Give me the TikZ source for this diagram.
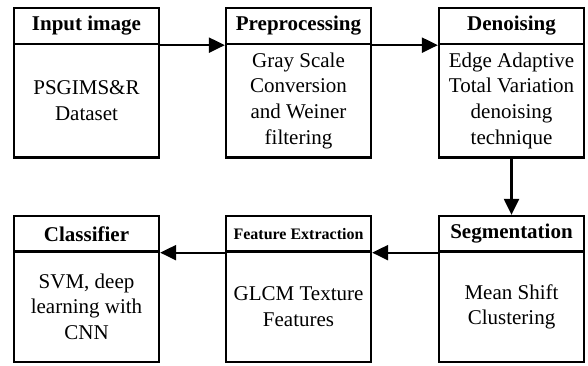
\documentclass[tikz,border=0pt]{standalone}
\usepackage{fontspec}
\setmainfont{Liberation Serif}
\usetikzlibrary{arrows.meta}
\begin{document}
\begin{tikzpicture}[
  box/.style={draw=black, line width=2.3pt, minimum width=145pt, inner sep=0pt, align=center},
  headbox/.style={box, font=\fontsize{21}{25.7}\selectfont\bfseries},
  smallhead/.style={box, font=\fontsize{16}{19}\selectfont\bfseries},
  bodybox/.style={box, font=\fontsize{21}{25.7}\selectfont},
  flow/.style={line width=2.3pt, -{Triangle[length=16pt,width=15pt]}}
]
\useasboundingbox (0pt,0pt) rectangle (588pt,-365pt);
% top row
\node[headbox, minimum height=36pt] (h1) at (86.5pt,-26pt) {Input image};
\node[bodybox, minimum height=113.5pt] (b1) at (86.5pt,-100.75pt) {PSGIMS\&R\\Dataset};
\node[headbox, minimum height=36pt] (h2) at (298.5pt,-26pt) {Preprocessing};
\node[bodybox, minimum height=113.5pt] (b2) at (298.5pt,-100.75pt) {Gray Scale\\Conversion\\and Weiner\\filtering};
\node[headbox, minimum height=36pt] (h3) at (511.5pt,-26pt) {Denoising};
\node[bodybox, minimum height=113.5pt] (b3) at (511.5pt,-100.75pt) {Edge Adaptive\\Total Variation\\denoising\\technique};
% bottom row
\node[headbox, minimum height=35.5pt] (h4) at (86.5pt,-233.75pt) {Classifier};
\node[bodybox, minimum height=110.5pt] (b4) at (86.5pt,-306.75pt) {SVM, deep\\learning with\\CNN};
\node[smallhead, minimum height=35.5pt] (h5) at (298.5pt,-233.75pt) {Feature Extraction};
\node[bodybox, minimum height=110.5pt] (b5) at (298.5pt,-306.75pt) {GLCM Texture\\Features};
\node[headbox, minimum height=35.5pt] (h6) at (511.5pt,-233.75pt) {Segmentation};
\node[bodybox, minimum height=110.5pt] (b6) at (511.5pt,-306.75pt) {Mean Shift\\Clustering};
% connectors
\draw[flow] (h1.south east) -- (h2.south west);
\draw[flow] (h2.south east) -- (h3.south west);
\draw[flow] (b3.south) -- (h6.north);
\draw[flow] (h6.south west) -- (h5.south east);
\draw[flow] (h5.south west) -- (h4.south east);
\end{tikzpicture}
\end{document}
